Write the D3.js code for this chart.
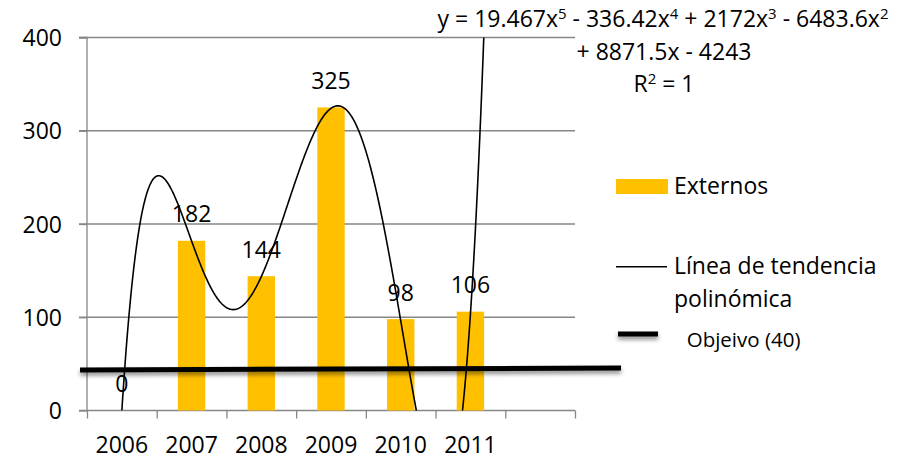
<!DOCTYPE html>
<html>
<head>
<meta charset="utf-8">
<script src="https://cdn.jsdelivr.net/npm/d3@7"></script>
<style>
  html, body { margin: 0; padding: 0; background: #fff; }
  svg { display: block; font-family: "Open Sans", sans-serif; }
</style>
</head>
<body>
<svg id="chart" width="915" height="459"></svg>
<script>
// ---- data ----
const categories = ["2006", "2007", "2008", "2009", "2010", "2011"];
const externos = [0, 182, 144, 325, 98, 106];
const yTicks = [0, 100, 200, 300, 400];
// polynomial trend line coefficients as displayed (x^5 .. x^0)
const trendCoefficients = [19.467, -336.42, 2172, -6483.6, 8871.5, -4243];
const trendEquation = ["y = 19.467x", "5", " - 336.42x", "4", " + 2172x", "3", " - 6483.6x", "2"];
const trendEquation2 = "+ 8871.5x - 4243";
const trendR2 = ["R", "2", " = 1"];
// hand-drawn objective line (category-slot position, value)
const objectiveLine = [{ pos: -0.1, v: 43.5 }, { pos: 7.66, v: 45.5 }];
const legendLabels = ["Externos", "Línea de tendencia", "polinómica", "Objeivo (40)"];

(function () {
// ---- layout ----
const svg = d3.select("#chart");
const pLeft = 87, pRight = 575, pTop = 37.5, pBottom = 410.5;
const slots = 7;
const slotW = (pRight - pLeft) / slots;
const FS = 23;

const y = d3.scaleLinear().domain([0, 400]).range([pBottom, pTop]);
const xSlot = d3.scaleLinear().domain([0, slots]).range([pLeft, pRight]);
const x = d3.scaleBand().domain(categories).range([pLeft, pLeft + slotW * categories.length]).paddingInner(0).paddingOuter(0);

const gridColor = "#868686";
const barColor = "#FFC000";

// defs
const defs = svg.append("defs");
defs.append("clipPath").attr("id", "plotClip")
  .append("rect").attr("x", pLeft).attr("y", pTop).attr("width", pRight - pLeft).attr("height", pBottom - pTop);
const f = defs.append("filter").attr("id", "shadow").attr("filterUnits", "userSpaceOnUse")
  .attr("x", 0).attr("y", 0).attr("width", 915).attr("height", 459);
f.append("feDropShadow").attr("dx", 0).attr("dy", 3).attr("stdDeviation", 2).attr("flood-color", "#000").attr("flood-opacity", 0.45);

// gridlines
svg.append("g").selectAll("line").data(yTicks.filter(d => d > 0)).join("line")
  .attr("x1", pLeft - 8).attr("x2", pRight)
  .attr("y1", d => y(d)).attr("y2", d => y(d))
  .attr("stroke", gridColor).attr("stroke-width", 1.3);

// y axis
const yAxis = d3.axisLeft(y).tickValues(yTicks).tickSize(8).tickPadding(17);
const gy = svg.append("g").attr("transform", `translate(${pLeft},0)`).call(yAxis);
gy.select(".domain").attr("stroke", gridColor).attr("stroke-width", 1.3).attr("d", `M-8,${pTop}H0V${pBottom}`);
gy.selectAll(".tick line").attr("stroke", gridColor).attr("stroke-width", 1.3);
gy.selectAll(".tick text").attr("font-size", FS).attr("font-family", "Open Sans").attr("fill", "#000").attr("dy", "0.35em");

// x axis (tick marks at slot boundaries)
const xAxis = d3.axisBottom(xSlot).tickValues(d3.range(0, slots + 1)).tickSize(8).tickFormat("");
const gx = svg.append("g").attr("transform", `translate(0,${pBottom})`).call(xAxis);
gx.select(".domain").attr("stroke", gridColor).attr("stroke-width", 1.3).attr("d", `M${pLeft - 8},0H${pRight}`);
gx.selectAll(".tick line").attr("stroke", gridColor).attr("stroke-width", 1.3);

// x labels
const xLab = d3.axisBottom(x).tickSize(0).tickPadding(0);
const gxl = svg.append("g").attr("transform", `translate(0,${pBottom})`).call(xLab);
gxl.select(".domain").remove();
gxl.selectAll(".tick text").attr("font-size", FS).attr("font-family", "Open Sans").attr("fill", "#000")
  .attr("y", 42.5).attr("dy", 0);

// bars
const barW = x.bandwidth() * 0.393;
svg.append("g").selectAll("rect").data(externos).join("rect")
  .attr("x", (d, i) => x(categories[i]) + x.bandwidth() / 2 - barW / 2)
  .attr("width", barW)
  .attr("y", d => y(d))
  .attr("height", d => y(0) - y(d))
  .attr("fill", barColor);

// trend line from displayed equation
function poly(t) {
  return trendCoefficients.reduce((acc, c) => acc * t + c, 0);
}
const tPts = d3.range(1, 6.5001, 0.01).map(t => [xSlot(t - 0.5), y(poly(t))]);
svg.append("g").attr("clip-path", "url(#plotClip)")
  .append("path").attr("d", d3.line()(tPts))
  .attr("fill", "none").attr("stroke", "#000").attr("stroke-width", 1.6);

// data labels
svg.append("g").selectAll("text").data(externos).join("text")
  .attr("x", (d, i) => x(categories[i]) + x.bandwidth() / 2)
  .attr("y", d => y(d) - 18.5)
  .attr("text-anchor", "middle").attr("font-size", FS).attr("fill", "#000")
  .text(d => d);

// objective line
svg.append("line")
  .attr("x1", xSlot(objectiveLine[0].pos)).attr("y1", y(objectiveLine[0].v))
  .attr("x2", xSlot(objectiveLine[1].pos)).attr("y2", y(objectiveLine[1].v))
  .attr("stroke", "#000").attr("stroke-width", 5).attr("filter", "url(#shadow)");

// equation
const eq = svg.append("g").attr("font-size", FS).attr("fill", "#000").attr("text-anchor", "middle");
const t1 = eq.append("text").attr("x", 663).attr("y", 27.3);
trendEquation.forEach((s, i) => {
  const ts = t1.append("tspan").text(s);
  if (i % 2 === 1) ts.attr("font-size", 15).attr("dy", -8);
  else if (i > 0) ts.attr("dy", 8);
});
eq.append("text").attr("x", 664).attr("y", 60).text(trendEquation2);
const t3 = eq.append("text").attr("x", 664).attr("y", 91.7);
trendR2.forEach((s, i) => {
  const ts = t3.append("tspan").text(s);
  if (i === 1) ts.attr("font-size", 15).attr("dy", -8);
  else if (i === 2) ts.attr("dy", 8);
});

// legend
const lg = svg.append("g").attr("font-size", FS).attr("fill", "#000");
lg.append("rect").attr("x", 616).attr("y", 179).attr("width", 52).attr("height", 15).attr("fill", barColor);
lg.append("text").attr("x", 674).attr("y", 194.3).text(legendLabels[0]);
lg.append("line").attr("x1", 616).attr("x2", 667).attr("y1", 266.7).attr("y2", 266.7).attr("stroke", "#000").attr("stroke-width", 1.6);
lg.append("text").attr("x", 674).attr("y", 274.3).text(legendLabels[1]);
lg.append("text").attr("x", 674).attr("y", 306.7).text(legendLabels[2]);
lg.append("line").attr("x1", 618).attr("x2", 658).attr("y1", 334).attr("y2", 334).attr("stroke", "#000").attr("stroke-width", 5).attr("filter", "url(#shadow)");
lg.append("text").attr("x", 686.7).attr("y", 346.7).attr("font-size", 20.5).text(legendLabels[3]);
})();
</script>
</body>
</html>
